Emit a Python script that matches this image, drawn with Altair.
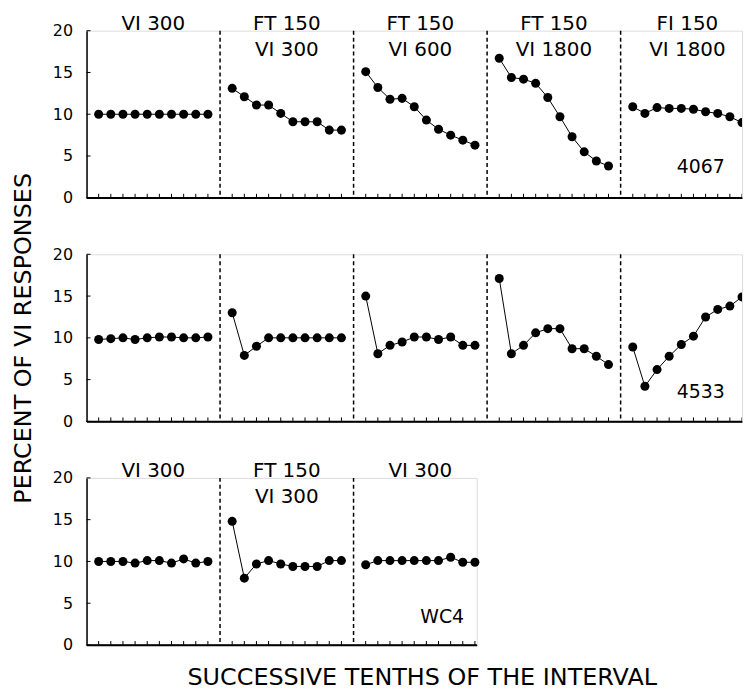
import altair as alt
import pandas as pd

FONT = "DejaVu Sans"

# ---- data (percent of VI responses, successive tenths of the interval) ----
# Subject 4067
r1_p1 = [10.0, 10.0, 10.0, 10.0, 10.0, 10.0, 10.0, 10.0, 10.0, 10.0]
r1_p2 = [13.1, 12.1, 11.1, 11.1, 10.1, 9.1, 9.1, 9.1, 8.1, 8.1]
r1_p3 = [15.1, 13.2, 11.8, 11.9, 10.9, 9.3, 8.2, 7.5, 6.9, 6.3]
r1_p4 = [16.7, 14.4, 14.2, 13.7, 12.0, 9.7, 7.3, 5.5, 4.4, 3.8]
r1_p5 = [10.9, 10.1, 10.8, 10.7, 10.7, 10.6, 10.3, 10.1, 9.7, 9.0]
# Subject 4533
r2_p1 = [9.8, 9.9, 10.0, 9.8, 10.0, 10.1, 10.1, 10.0, 10.0, 10.1]
r2_p2 = [13.0, 7.9, 9.0, 10.0, 10.0, 10.0, 10.0, 10.0, 10.0, 10.0]
r2_p3 = [15.0, 8.1, 9.1, 9.5, 10.1, 10.1, 9.8, 10.1, 9.1, 9.1]
r2_p4 = [17.1, 8.1, 9.1, 10.6, 11.1, 11.1, 8.7, 8.7, 7.8, 6.8]
r2_p5 = [8.9, 4.2, 6.2, 7.8, 9.2, 10.2, 12.5, 13.4, 13.8, 14.9]
# Subject WC4
r3_p1 = [10.0, 10.0, 10.0, 9.8, 10.1, 10.1, 9.8, 10.3, 9.8, 10.0]
r3_p2 = [14.8, 8.0, 9.7, 10.1, 9.7, 9.4, 9.4, 9.4, 10.1, 10.1]
r3_p3 = [9.6, 10.1, 10.1, 10.1, 10.1, 10.1, 10.1, 10.5, 9.9, 9.9]

cond_line1_a = ["VI 300", "FT 150", "FT 150", "FT 150", "FI 150"]
cond_line2_a = ["", "VI 300", "VI 600", "VI 1800", "VI 1800"]
cond_line1_b = ["VI 300", "FT 150", "VI 300"]
cond_line2_b = ["", "VI 300", ""]

subjects = ["4067", "4533", "WC4"]
y_ticks = [0, 5, 10, 15, 20]

Y_DOMAIN = [0, 20]
W, H = 659, 168
PX_PER_UNIT = W / 54.0
PER = 11  # slots per condition block (10 tenths + gap)


def build_row(series, line1, line2, subject, subj_x, subj_y, x_max,
              xtitle=None, ytitle=None, clip=True):
    pts = []
    for k, vals in enumerate(series):
        for i, v in enumerate(vals):
            pts.append({"pos": PER * k + i + 1, "val": v, "panel": k})
    df = pd.DataFrame(pts)
    n = len(series)
    width = round(x_max * PX_PER_UNIT, 1)

    xaxis = alt.Axis(labels=False, ticks=False, grid=False,
                     domainColor="black", domainWidth=1.5, title=xtitle,
                     titleFont=FONT, titleFontSize=24, titleFontWeight="normal",
                     titleColor="black", titlePadding=21, titleX=337,
                     titleAlign="center")
    yaxis = alt.Axis(values=y_ticks, ticks=False, tickSize=0, grid=False,
                     domainColor="black", domainWidth=1.5,
                     labelFont=FONT, labelFontSize=16, labelColor="black",
                     labelPadding=14, title=ytitle, titleFont=FONT,
                     titleFontSize=24, titleFontWeight="normal",
                     titleColor="black", titlePadding=17)
    xs = alt.Scale(domain=[0, x_max], nice=False, zero=False)
    ys = alt.Scale(domain=Y_DOMAIN, nice=False, zero=False)

    def X(f):
        return alt.X(f, type="quantitative", scale=xs, axis=xaxis)

    def Y(f):
        return alt.Y(f, type="quantitative", scale=ys, axis=yaxis)

    base = alt.Chart(df)
    lines = base.mark_line(color="black", strokeWidth=1, clip=clip).encode(
        x=X("pos"), y=Y("val"), detail="panel:N")
    dots = base.mark_circle(color="black", size=82, opacity=1, clip=clip).encode(
        x=X("pos"), y=Y("val"))

    div_df = pd.DataFrame({"pos": [PER * (k + 1) for k in range(n - 1)]})
    dividers = alt.Chart(div_df).mark_rule(
        color="black", strokeWidth=1.5, strokeDash=[4, 3]).encode(
        x=X("pos"), y=alt.value(0), y2=alt.value(H))

    tick_df = pd.DataFrame({"pos": [PER * k + i + 1 for k in range(n) for i in range(10)]})
    xticks = alt.Chart(tick_df).mark_rule(color="black", strokeWidth=1, clip=True).encode(
        x=X("pos"), y=alt.value(H), y2=alt.value(H - 4))

    ytick_df = pd.DataFrame({"val": y_ticks})
    yticks = alt.Chart(ytick_df).mark_rule(color="black", strokeWidth=1).encode(
        y=Y("val"), x=alt.value(0), x2=alt.value(4))

    base_df = pd.DataFrame({"val": [0]})
    baseline = alt.Chart(base_df).mark_rule(color="black", strokeWidth=1.5).encode(
        y=Y("val"), x=alt.value(0), x2=alt.value(width))

    layers = [dividers, xticks, yticks, baseline, lines, dots]

    if line1 is not None:
        t_df = pd.DataFrame({"center": [PER * k + 5.5 for k in range(n)],
                             "l1": line1, "l2": line2})
        t1 = alt.Chart(t_df).mark_text(font=FONT, fontSize=20, color="black",
                                       baseline="alphabetic", align="center").encode(
            x=X("center"), y=alt.value(-1), text="l1:N")
        t2 = alt.Chart(t_df).mark_text(font=FONT, fontSize=20, color="black",
                                       baseline="alphabetic", align="center").encode(
            x=X("center"), y=alt.value(25), text="l2:N")
        layers += [t1, t2]

    s_df = pd.DataFrame({"x": [subj_x], "y": [subj_y], "s": [subject]})
    subj = alt.Chart(s_df).mark_text(font=FONT, fontSize=19, color="black",
                                     baseline="alphabetic", align="center").encode(
        x=X("x"), y=Y("y"), text="s:N")
    layers.append(subj)

    return alt.layer(*layers).properties(width=width, height=H)


row1 = build_row([r1_p1, r1_p2, r1_p3, r1_p4, r1_p5], cond_line1_a, cond_line2_a,
                 subjects[0], 50.6, 3.0, 54)
row2 = build_row([r2_p1, r2_p2, r2_p3, r2_p4, r2_p5], None, None,
                 subjects[1], 50.6, 2.8, 54, ytitle="PERCENT OF VI RESPONSES")
row3 = build_row([r3_p1, r3_p2, r3_p3], cond_line1_b, cond_line2_b,
                 subjects[2], 29.3, 2.65, 32.15,
                 xtitle="SUCCESSIVE TENTHS OF THE INTERVAL", clip=False)

chart = alt.vconcat(row1, row2, row3, spacing=56.8, bounds="flush").properties(
    padding={"left": 11, "top": 11, "right": 0, "bottom": 0}
).configure_view(stroke=None).configure(font=FONT)

chart.save("out.html", embed_options={"renderer": "svg", "actions": False})
